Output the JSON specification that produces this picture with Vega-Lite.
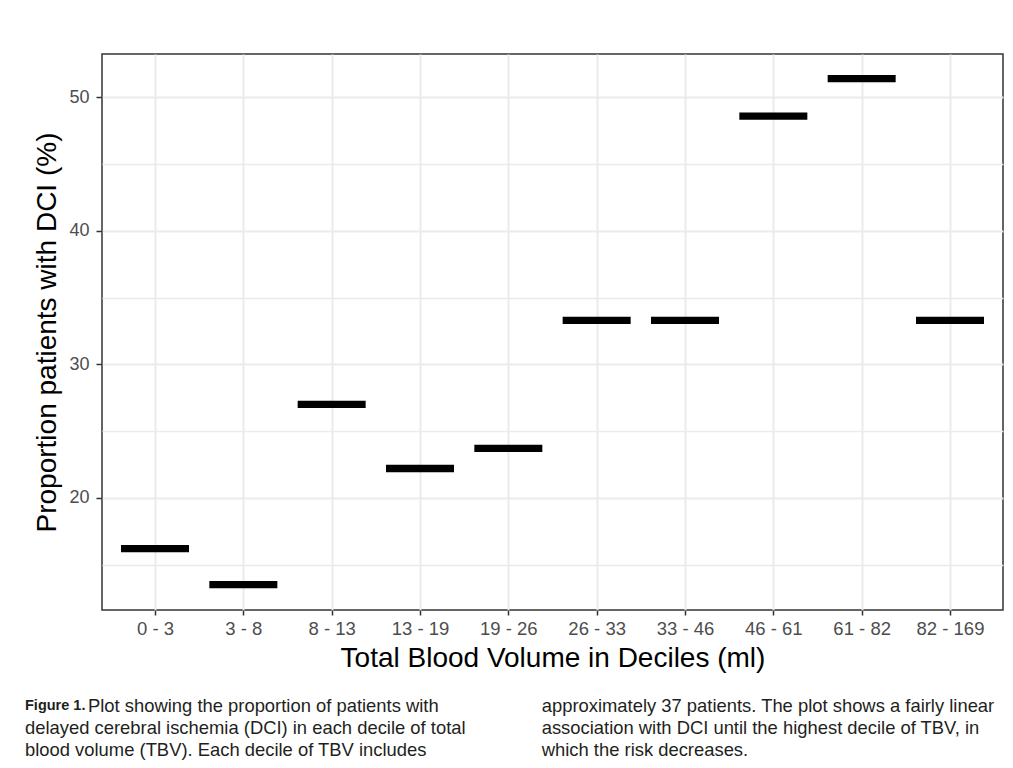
{
  "$schema": "https://vega.github.io/schema/vega-lite/v6.json",
  "background": "white",
  "padding": {"left": 25, "top": 53, "right": 10, "bottom": 8},
  "bounds": "flush",
  "spacing": 96,
  "config": {
    "view": {"stroke": null},
    "font": "Liberation Sans"
  },
  "vconcat": [
    {
      "width": 901,
      "height": 556,
      "view": {"stroke": "#333333", "strokeWidth": 1.5},
      "data": {
        "values": [
          {"decile": "0 - 3", "pct": 16.2},
          {"decile": "3 - 8", "pct": 13.5},
          {"decile": "8 - 13", "pct": 27.0},
          {"decile": "13 - 19", "pct": 22.2},
          {"decile": "19 - 26", "pct": 23.7},
          {"decile": "26 - 33", "pct": 33.3},
          {"decile": "33 - 46", "pct": 33.3},
          {"decile": "46 - 61", "pct": 48.6},
          {"decile": "61 - 82", "pct": 51.4},
          {"decile": "82 - 169", "pct": 33.3}
        ]
      },
      "mark": {"type": "tick", "orient": "horizontal", "size": 68, "thickness": 7.3, "color": "#000000", "opacity": 1},
      "encoding": {
        "x": {
          "field": "decile",
          "type": "ordinal",
          "sort": null,
          "scale": {"type": "point", "padding": 0.6},
          "axis": {
            "title": "Total Blood Volume in Deciles (ml)",
            "titleFont": "Liberation Sans",
            "titleFontSize": 28,
            "titleFontWeight": "normal",
            "titleColor": "#000000",
            "titlePadding": 7,
            "labelAngle": 0,
            "labelFont": "Liberation Sans",
            "labelFontSize": 18.5,
            "labelColor": "#4D4D4D",
            "labelPadding": 4,
            "tickSize": 5,
            "tickColor": "#333333",
            "tickWidth": 1.5,
            "domain": false,
            "grid": true,
            "gridColor": "#EBEBEB",
            "gridWidth": 2
          }
        },
        "y": {
          "field": "pct",
          "type": "quantitative",
          "scale": {"domain": [11.6, 53.25], "nice": false, "zero": false},
          "axis": {
            "title": "Proportion patients with DCI (%)",
            "titleFont": "Liberation Sans",
            "titleFontSize": 28,
            "titleFontWeight": "normal",
            "titleColor": "#000000",
            "titlePadding": 7,
            "values": [15, 20, 25, 30, 35, 40, 45, 50],
            "labelExpr": "datum.value % 10 === 0 ? datum.label : ''",
            "labelFont": "Liberation Sans",
            "labelFontSize": 18,
            "labelColor": "#4D4D4D",
            "labelPadding": 7,
            "tickSize": 6,
            "tickColor": "#333333",
            "tickWidth": 1.5,
            "tickOpacity": {"condition": {"test": "datum.value % 10 !== 0", "value": 0}, "value": 1},
            "domain": false,
            "grid": true,
            "gridColor": "#EBEBEB",
            "gridWidth": {"condition": {"test": "datum.value % 10 !== 0", "value": 1.4}, "value": 2}
          }
        }
      }
    },
    {
      "width": 516.7,
      "height": 44,
      "view": {"stroke": null},
      "data": {
        "values": [
          {"col": "L", "line": 0, "part": "lead", "text": "Figure 1."},
          {"col": "L", "line": 0, "part": "first", "text": "Plot showing the proportion of patients with"},
          {"col": "L", "line": 1, "part": "body", "text": "delayed cerebral ischemia (DCI) in each decile of total"},
          {"col": "L", "line": 2, "part": "body", "text": "blood volume (TBV). Each decile of TBV includes"},
          {"col": "R", "line": 0, "part": "body", "text": "approximately 37 patients. The plot shows a fairly linear"},
          {"col": "R", "line": 1, "part": "body", "text": "association with DCI until the highest decile of TBV, in"},
          {"col": "R", "line": 2, "part": "body", "text": "which the risk decreases."}
        ]
      },
      "encoding": {
        "x": {"field": "col", "type": "nominal", "scale": {"type": "point", "padding": 0}, "axis": null},
        "y": {"field": "line", "type": "ordinal", "scale": {"type": "point", "padding": 0}, "axis": null},
        "text": {"field": "text", "type": "nominal"}
      },
      "layer": [
        {
          "transform": [{"filter": "datum.part === 'body'"}],
          "mark": {"type": "text", "align": "left", "baseline": "middle", "dx": -77, "font": "Liberation Sans", "fontSize": 18.4, "color": "#231F20"}
        },
        {
          "transform": [{"filter": "datum.part === 'first'"}],
          "mark": {"type": "text", "align": "left", "baseline": "middle", "dx": -14, "font": "Liberation Sans", "fontSize": 18.4, "color": "#231F20"}
        },
        {
          "transform": [{"filter": "datum.part === 'lead'"}],
          "mark": {"type": "text", "align": "left", "baseline": "middle", "dx": -77, "font": "Liberation Sans", "fontWeight": "bold", "fontSize": 14.5, "color": "#231F20"}
        }
      ]
    }
  ]
}
